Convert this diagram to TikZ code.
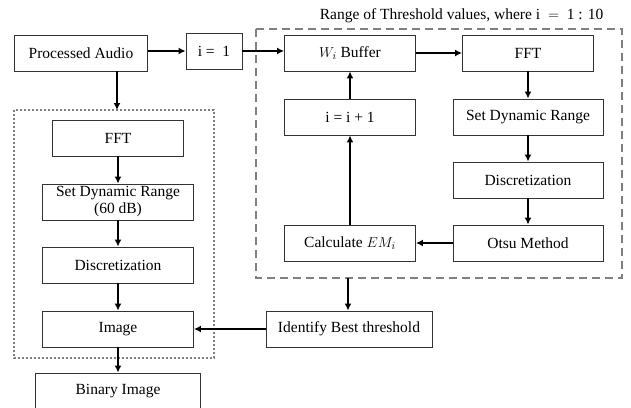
\documentclass[tikz,border=0pt]{standalone}
\usepackage{fontspec}
\setmainfont{Liberation Serif}
\usetikzlibrary{arrows.meta,calc}
\begin{document}
\begin{tikzpicture}[x=1pt,y=-1pt,
  box/.style={draw=black!80,line width=0.9pt,fill=white,minimum height=36pt,inner sep=1pt,align=center,font=\fontsize{15.5}{15.5}\selectfont},
  arr/.style={line width=2.2pt,-{Latex[length=7pt,width=7pt]}},
  ln/.style={line width=2.2pt}]
\clip (0,0) rectangle (631,407);
\useasboundingbox (0,0) rectangle (631,407);
% group frames
\draw[gray,line width=2.4pt,dash pattern=on 8pt off 5pt] (256,29) rectangle (622,278);
\draw[gray,line width=2pt,dotted] (14,110) rectangle (214,358);
\node[font=\fontsize{15.5}{15.5}\selectfont,anchor=east] (title) at (607,16) {Range of Threshold values, where i ${}={}$ 1 : 10};
% nodes
\node[box,minimum width=133pt] (pa) at (81,53) {Processed Audio};
\node[box,minimum width=56pt] (i1) at (214,51) {i =\ \ 1};
\node[box,minimum width=131pt] (wb) at (350,53) {$W_i$ Buffer};
\node[box,minimum width=131pt] (fftr) at (528,53) {FFT};
\node[box,minimum width=131pt] (inc) at (350,117) {i = i + 1};
\node[box,minimum width=150pt] (sdrr) at (528,117) {Set Dynamic Range};
\node[box,minimum width=150pt] (discr) at (528,180) {Discretization};
\node[box,minimum width=150pt] (otsu) at (528,243) {Otsu Method};
\node[box,minimum width=131pt] (calc) at (350,243) {Calculate $EM_i$};
\node[box,minimum width=166pt] (ident) at (349,329) {Identify Best threshold};
\node[box,minimum width=131pt] (fftl) at (118,138) {FFT};
\node[box,minimum width=151pt,font=\fontsize{15.5}{17}\selectfont] (sdrl) at (118,202) {Set Dynamic Range\\(60 dB)};
\node[box,minimum width=151pt] (discl) at (118,265) {Discretization};
\node[box,minimum width=151pt] (img) at (118,329) {Image};
\node[box,minimum width=165pt] (bin) at (118,391) {Binary Image};
\coordinate (dtop) at (117,110);
\coordinate (dbot) at (348,278);
% connectors
\draw[arr] (pa.south -| dtop) -- (dtop);
\draw[arr] (pa.east |- i1) -- (i1.west);
\draw[arr] (i1.east) -- (wb.west |- i1);
\draw[arr] (wb.east) -- (fftr.west);
\draw[arr] (fftr.south) -- (sdrr.north);
\draw[arr] (sdrr.south) -- (discr.north);
\draw[arr] (discr.south) -- (otsu.north);
\draw[arr] (otsu.west) -- (calc.east);
\draw[arr] (calc.north) -- (inc.south);
\draw[arr] (inc.north) -- (wb.south);
\draw[arr] (dbot) -- (ident.north -| dbot);
\draw[arr] (ident.west) -- (img.east);
\draw[arr] (fftl.south) -- (sdrl.north);
\draw[arr] (sdrl.south) -- (discl.north);
\draw[arr] (discl.south) -- (img.north);
\draw[arr] (img.south) -- (bin.north);
\end{tikzpicture}
\end{document}
